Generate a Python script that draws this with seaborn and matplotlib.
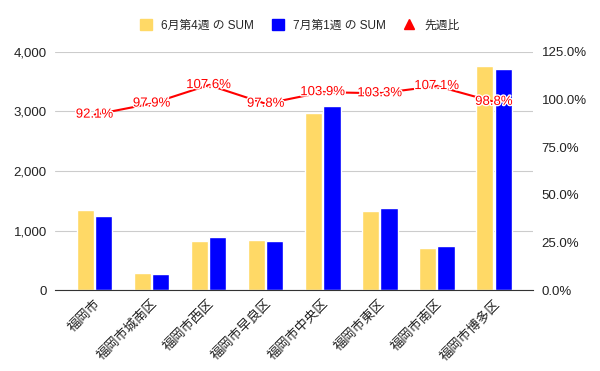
import matplotlib
matplotlib.use('Agg')
import matplotlib.pyplot as plt
import seaborn as sns
import pandas as pd
from matplotlib.patches import Patch
from matplotlib.lines import Line2D
import matplotlib.patheffects as pe
from matplotlib.ticker import FuncFormatter

wards = ['福岡市', '福岡市城南区', '福岡市西区', '福岡市早良区',
         '福岡市中央区', '福岡市東区', '福岡市南区', '福岡市博多区']
june_w4 = [1340, 285, 820, 850, 2970, 1330, 700, 3760]
july_w1 = [1240, 270, 885, 830, 3090, 1375, 745, 3720]
ratio = [92.1, 97.9, 107.6, 97.8, 103.9, 103.3, 107.1, 98.8]
series = ['6月第4週 の SUM', '7月第1週 の SUM', '先週比']

c_june = '#FFD966'
c_july = '#0000FF'
c_line = '#FF0000'

sns.set_style('white')
plt.rcParams['font.family'] = ['Liberation Sans', 'Noto Sans CJK JP', 'DejaVu Sans']

bars = pd.DataFrame({'ward': wards * 2,
                     'series': [series[0]] * len(wards) + [series[1]] * len(wards),
                     'value': june_w4 + july_w1})
line = pd.DataFrame({'ward': wards, 'ratio': [r / 100 for r in ratio]})

fig = plt.figure(figsize=(6, 3.71), dpi=100)
ax = fig.add_axes([0.092, 0.218, 0.797, 0.642])

sns.barplot(data=bars, x='ward', y='value', hue='series', order=wards,
            palette=[c_june, c_july], width=0.64, gap=0.06, ax=ax,
            legend=False, saturation=1)
ax.set_ylim(0, 4000)
ax.set_yticks([0, 1000, 2000, 3000, 4000])
ax.yaxis.set_major_formatter(FuncFormatter(lambda v, p: f'{int(v):,}'))
ax.grid(axis='y', color='#cccccc', linewidth=0.8)
ax.set_axisbelow(True)
ax.set_xlabel('')
ax.set_ylabel('')
for s in ['top', 'left', 'right']:
    ax.spines[s].set_visible(False)
ax.spines['bottom'].set_color('#333333')
ax.tick_params(axis='y', length=0, labelsize=9.5, colors='#222222', pad=6)
ax.tick_params(axis='x', length=2, color='#bbbbbb', labelsize=9.5, colors='#222222')
for lab in ax.get_xticklabels():
    lab.set_rotation(45)
    lab.set_ha('right')
    lab.set_rotation_mode('anchor')

ax2 = ax.twinx()
sns.lineplot(data=line, x='ward', y='ratio', sort=False, color=c_line,
             linewidth=1.5, marker='^', markersize=3, markeredgewidth=0, ax=ax2)
ax2.set_ylim(0, 1.25)
ax2.set_yticks([0, 0.25, 0.5, 0.75, 1.0, 1.25])
ax2.yaxis.set_major_formatter(FuncFormatter(lambda v, p: f'{v * 100:.1f}%'))
ax2.set_ylabel('')
for s in ['top', 'left', 'right', 'bottom']:
    ax2.spines[s].set_visible(False)
ax2.tick_params(axis='y', length=0, labelsize=9.5, colors='#222222', pad=6)

for i, r in enumerate(ratio):
    ax2.text(i, r / 100, f'{r:.1f}%', color=c_line, fontsize=9.5,
             ha='center', va='center',
             path_effects=[pe.withStroke(linewidth=2, foreground='white')])

handles = [Patch(color=c_june), Patch(color=c_july),
           Line2D([], [], color=c_line, marker='^', linestyle='none', markersize=7)]
fig.legend(handles, series, loc='center', bbox_to_anchor=(0.5, 0.932), ncol=3,
           frameon=False, fontsize=8.5, handlelength=1, handleheight=1,
           columnspacing=1.5, handletextpad=0.8)

fig.savefig('out.png', dpi=100)
